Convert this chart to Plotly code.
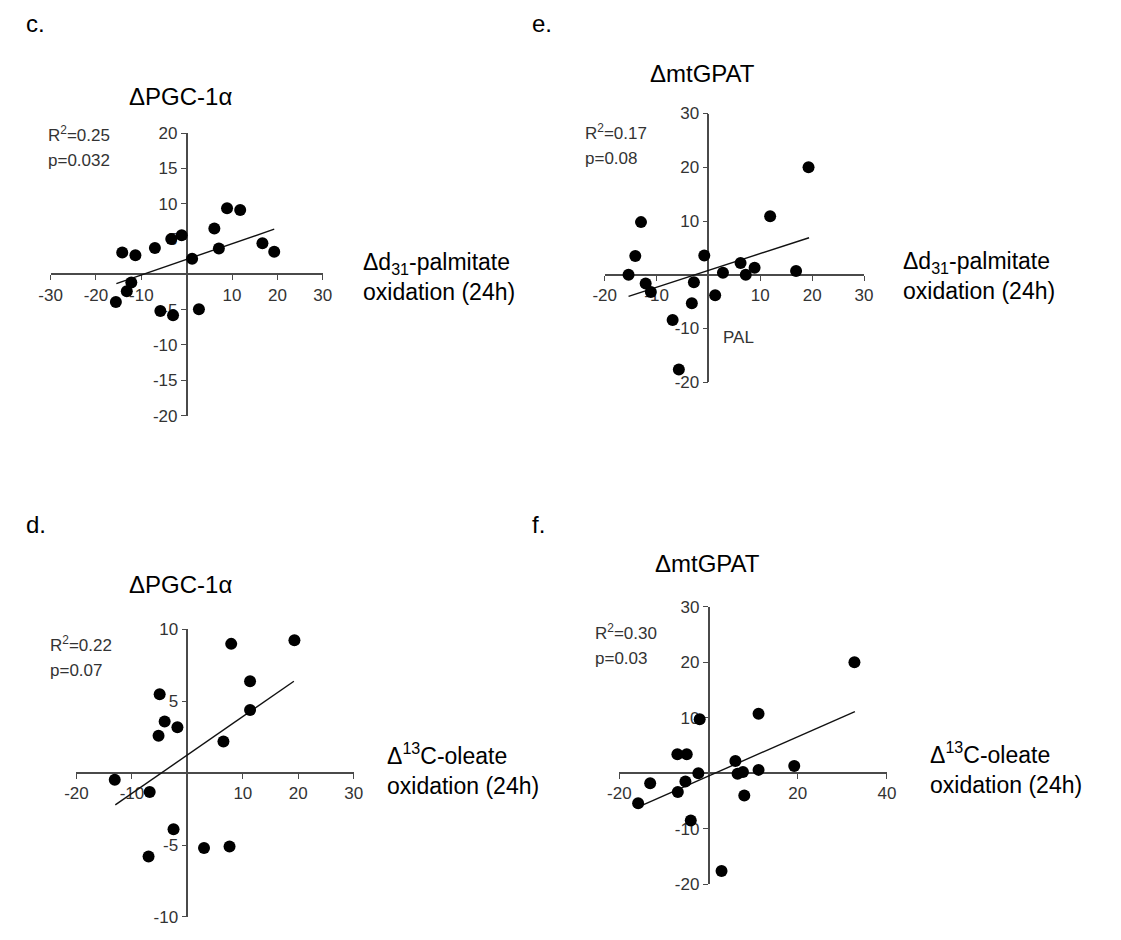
import plotly.graph_objects as go

W, H = 1121, 940

# ---- data -------------------------------------------------------------
# c. PGC-1a vs d31-palmitate oxidation
c_x = [-14.2, -11.3, -7.0, -3.4, -1.1, 1.2, 6.1, 7.1, 8.9, 11.8, 16.7, 19.3,
       -12.2, -13.2, -15.6, -5.8, -3.0, 2.7]
c_y = [3.1, 2.7, 3.75, 5.0, 5.55, 2.2, 6.5, 3.65, 9.35, 9.1, 4.4, 3.2,
       -1.15, -2.4, -3.9, -5.2, -5.8, -4.95]
c_fit_x = [-15.5, 19.3]
c_fit_y = [-1.3, 6.4]

# e. mtGPAT vs d31-palmitate oxidation
e_x = [-15.4, -14.1, -13.0, -12.1, -11.1, -6.9, -5.7, -2.8, -3.2, -0.8, 1.3,
       2.8, 6.2, 7.2, 8.9, 11.9, 16.9, 19.3]
e_y = [0.0, 3.5, 9.8, -1.6, -3.2, -8.4, -17.6, -1.4, -5.3, 3.6, -3.8,
       0.4, 2.2, 0.0, 1.3, 10.9, 0.7, 20.0]
e_fit_x = [-15.4, 19.4]
e_fit_y = [-4.0, 6.9]

# d. PGC-1a vs 13C-oleate oxidation
d_x = [-13.1, -6.8, -5.0, -4.1, -5.2, -1.8, -2.5, -7.0, 3.0, 7.6, 6.5, 7.9,
       11.3, 11.3, 19.3]
d_y = [-0.45, -1.3, 5.5, 3.6, 2.6, 3.2, -3.9, -5.8, -5.2, -5.1, 2.2, 9.0,
       6.4, 4.4, 9.25]
d_fit_x = [-13.0, 19.2]
d_fit_y = [-2.2, 6.4]

# f. mtGPAT vs 13C-oleate oxidation
f_x = [-15.8, -13.1, -7.0, -4.9, -6.9, -5.2, -2.3, -2.0, -4.0, 2.9, 6.0, 6.5,
       7.7, 8.0, 11.2, 11.2, 19.2, 32.7]
f_y = [-5.4, -1.8, 3.4, 3.4, -3.4, -1.5, 0.0, 9.7, -8.5, -17.6, 2.2, -0.1,
       0.2, -4.0, 0.6, 10.7, 1.3, 20.0]
f_fit_x = [-14.7, 32.8]
f_fit_y = [-5.7, 11.1]

# axis ranges and tick values
c_xrange, c_yrange = [-30, 30], [-20, 20]
c_xticks, c_yticks = [-30, -20, -10, 10, 20, 30], [-20, -15, -10, -5, 5, 10, 15, 20]
e_xrange, e_yrange = [-20, 30], [-20, 30]
e_xticks, e_yticks = [-20, -10, 10, 20, 30], [-20, -10, 10, 20, 30]
d_xrange, d_yrange = [-20, 30], [-10, 10]
d_xticks, d_yticks = [-20, -10, 10, 20, 30], [-10, -5, 5, 10]
f_xrange, f_yrange = [-20, 40], [-20, 30]
f_xticks, f_yticks = [-20, 20, 40], [-20, -10, 10, 20, 30]

titles = ["ΔPGC-1α", "ΔmtGPAT", "ΔPGC-1α", "ΔmtGPAT"]
stats = [("R<sup>2</sup>=0.25", "p=0.032"), ("R<sup>2</sup>=0.17", "p=0.08"),
         ("R<sup>2</sup>=0.22", "p=0.07"), ("R<sup>2</sup>=0.30", "p=0.03")]
letters = ["c.", "e.", "d.", "f."]
palm_label = "Δd<sub>31</sub>-palmitate<br>oxidation (24h)"
oleate_label = "Δ<sup>13</sup>C-oleate<br>oxidation (24h)"

# ---- layout helpers ----------------------------------------------------
def px(x):
    return x / W

def py(y):
    return 1 - y / H

NARROW = "Liberation Sans, Arial, Helvetica, sans-serif"
SANS = "Liberation Sans, Arial, Helvetica, sans-serif"
AX_COL = "#4a4a4a"
TICK_COL = "#333333"

# pixel box of each plot area: (left, right, top, bottom)
panels = [
    dict(key="", box=(39.3, 316.7, 126.7, 415.0), xr=c_xrange, yr=c_yrange,
         xt=c_xticks, yt=c_yticks, x=c_x, y=c_y, fx=c_fit_x, fy=c_fit_y),
    dict(key="2", box=(604.0, 868.3, 106.7, 381.0), xr=e_xrange, yr=e_yrange,
         xt=e_xticks, yt=e_yticks, x=e_x, y=e_y, fx=e_fit_x, fy=e_fit_y),
    dict(key="3", box=(65.7, 348.3, 633.3, 926.7), xr=d_xrange, yr=d_yrange,
         xt=d_xticks, yt=d_yticks, x=d_x, y=d_y, fx=d_fit_x, fy=d_fit_y),
    dict(key="4", box=(619.0, 891.7, 610.0, 893.3), xr=f_xrange, yr=f_yrange,
         xt=f_xticks, yt=f_yticks, x=f_x, y=f_y, fx=f_fit_x, fy=f_fit_y),
]

fig = go.Figure()
layout = dict(
    width=W, height=H, margin=dict(l=0, r=0, t=0, b=0),
    paper_bgcolor="white", plot_bgcolor="rgba(0,0,0,0)", showlegend=False,
)

for p in panels:
    k = p["key"]
    l, r, t, b = p["box"]
    x0d, x1d = px(l), px(r)
    y0d, y1d = py(b), py(t)
    xr, yr = p["xr"], p["yr"]
    # axes cross at the data origin
    xpos = y0d + (0 - yr[0]) / (yr[1] - yr[0]) * (y1d - y0d)
    ypos = x0d + (0 - xr[0]) / (xr[1] - xr[0]) * (x1d - x0d)
    common = dict(
        showgrid=False, zeroline=False, showline=True, linecolor=AX_COL,
        linewidth=1.6, ticks="outside", ticklen=5, tickwidth=1.4,
        tickcolor=AX_COL, tickfont=dict(family=NARROW, size=17, color=TICK_COL),
        layer="below traces", fixedrange=True,
    )
    layout["xaxis" + k] = dict(
        common, domain=[x0d, x1d], range=xr, tickvals=p["xt"],
        ticktext=[str(v) for v in p["xt"]],
        anchor="free", position=xpos, side="bottom",
    )
    layout["yaxis" + k] = dict(
        common, domain=[y0d, y1d], range=yr, tickvals=p["yt"],
        ticktext=[str(v) for v in p["yt"]],
        anchor="free", position=ypos, side="left",
    )
    xa, ya = "x" + k, "y" + k
    fig.add_trace(go.Scatter(
        x=p["fx"], y=p["fy"], mode="lines", xaxis=xa, yaxis=ya,
        line=dict(color="#111111", width=1.4), hoverinfo="skip",
    ))
    fig.add_trace(go.Scatter(
        x=p["x"], y=p["y"], mode="markers", xaxis=xa, yaxis=ya,
        marker=dict(color="black", size=12, line=dict(width=0)),
    ))

fig.update_layout(**layout)

ann = []

def text(x, y, s, size=24, family=SANS, color="black", xanchor="left"):
    ann.append(dict(x=px(x), y=py(y), xref="paper", yref="paper", text=s,
                    showarrow=False, xanchor=xanchor, yanchor="middle",
                    align="left" if xanchor == "left" else "center",
                    font=dict(family=family, size=size, color=color)))

# panel letters
text(12, 15, letters[0])
text(528, 15, letters[1])
text(12, 526, letters[2])
text(528, 526, letters[3])

# panel titles
text(172, 89, titles[0], xanchor="center")
text(704, 66, titles[1], xanchor="center")
text(172, 587, titles[2], xanchor="center")
text(709, 566, titles[3], xanchor="center")

# regression statistics
for (sx, sy), (r2, pv) in zip([(35, 128), (582, 126), (37, 648), (592, 636)], stats):
    text(sx, sy, r2, size=17, family=NARROW, color=TICK_COL)
    text(sx, sy + 27, pv, size=17, family=NARROW, color=TICK_COL)

# x-axis quantity labels (two lines)
for (lx, ly), lab in zip([(356, 274), (906, 272), (380, 776), (933, 775)],
                         [palm_label, palm_label, oleate_label, oleate_label]):
    text(lx, ly, lab, size=23)

# in-panel note
ann.append(dict(x=2.5, y=-11.7, xref="x2", yref="y2", text="PAL",
                showarrow=False, xanchor="left", yanchor="middle",
                font=dict(family=NARROW, size=17, color=TICK_COL)))

fig.update_layout(annotations=ann)
fig.write_html("out.html")
